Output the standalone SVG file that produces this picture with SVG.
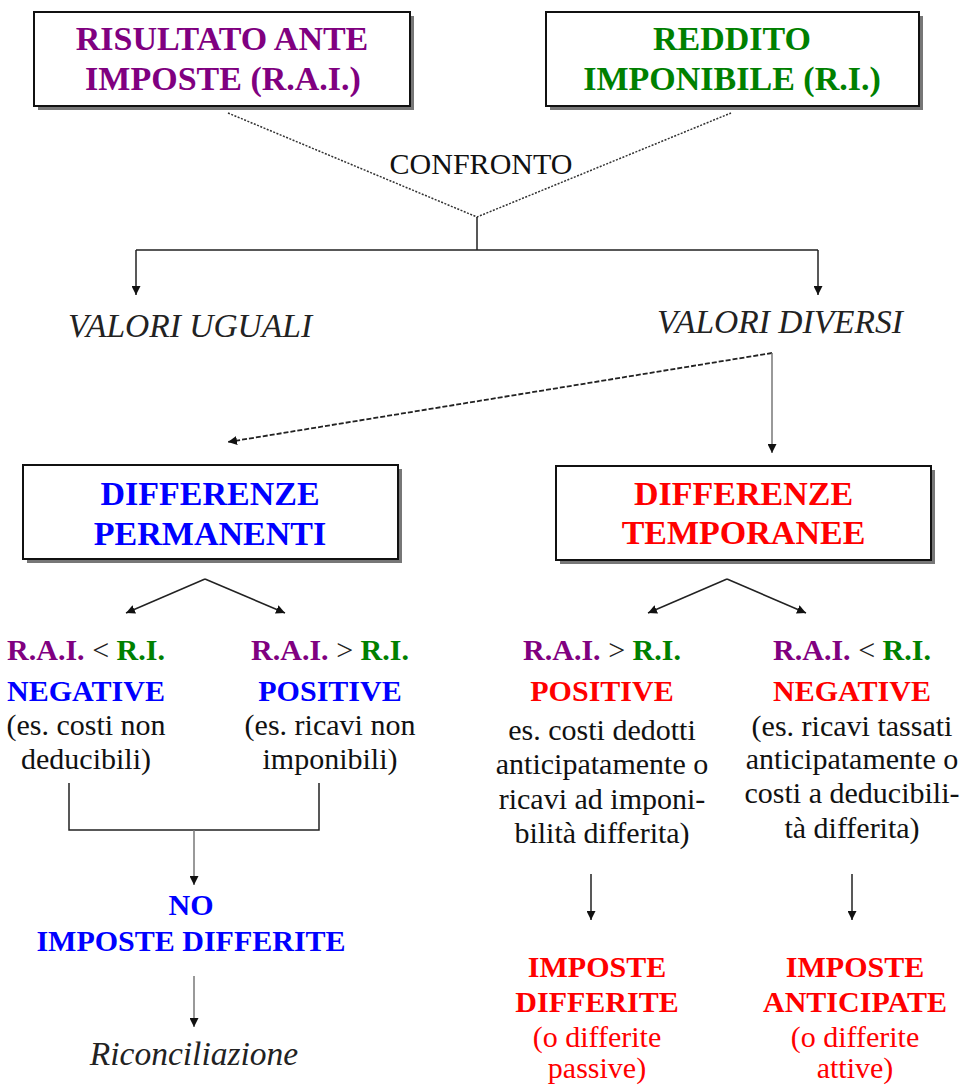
<svg xmlns="http://www.w3.org/2000/svg" width="964" height="1088" viewBox="0 0 964 1088">
<style>
text{font-family:"Liberation Serif","Times New Roman",serif;text-anchor:middle}
.big{font-size:34px;font-weight:bold}
.b{font-size:30px;font-weight:bold}
.r{font-size:30px;fill:#111}
.it{font-style:italic;font-size:33.5px;fill:#222}
.pu{fill:#800080}.gr{fill:#008000}.bl{fill:#0000ff}.rd{fill:#ff0000}
.op{font-weight:normal;fill:#222}
.box{fill:#fff;stroke:#111;stroke-width:2}
.sh{fill:#777}
.ln{fill:none;stroke:#222;stroke-width:1.5}
.gl{fill:none;stroke:#777;stroke-width:1.5}
.dot{fill:none;stroke:#333;stroke-width:1.5;stroke-dasharray:2 1.5}
.dash{fill:none;stroke:#222;stroke-width:1.8;stroke-dasharray:5 2}
</style>
<defs>
<marker id="ah" viewBox="0 0 10 10" refX="10" refY="5" markerWidth="9" markerHeight="9" markerUnits="userSpaceOnUse" orient="auto">
<path d="M0,0 L10,5 L0,10 z" fill="#111"/>
</marker>
</defs>
<rect width="964" height="1088" fill="#fff"/>

<g id="connectors">
<path class="dot" d="M228,113 L477,217 L731,113"/>
<path class="ln" d="M477,217 V250 M136,250 H818"/>
<path class="ln" d="M136,250 V295" marker-end="url(#ah)"/>
<path class="ln" d="M818,250 V295" marker-end="url(#ah)"/>
<path class="dash" d="M772,353 L228,442" marker-end="url(#ah)"/>
<path class="gl" d="M772,353 V453" marker-end="url(#ah)"/>
<path class="ln" d="M205,579 L126,613" marker-end="url(#ah)"/>
<path class="ln" d="M205,579 L285,613" marker-end="url(#ah)"/>
<path class="ln" d="M727,579 L648,613" marker-end="url(#ah)"/>
<path class="ln" d="M727,579 L806,613" marker-end="url(#ah)"/>
<path class="ln" d="M69,783 V830 H319 V783"/>
<path class="gl" d="M194,830 V885" marker-end="url(#ah)"/>
<path class="gl" d="M194,976 V1027" marker-end="url(#ah)"/>
<path class="ln" d="M591,874 V920" marker-end="url(#ah)"/>
<path class="ln" d="M852,874 V920" marker-end="url(#ah)"/>
</g>

<g id="rai">
<rect class="sh" x="38" y="16" width="376" height="94"/>
<rect class="box" x="34" y="12" width="376" height="94"/>
<text class="big pu" x="222" y="50">RISULTATO ANTE</text>
<text class="big pu" x="223" y="90">IMPOSTE (R.A.I.)</text>
</g>

<g id="ri">
<rect class="sh" x="550" y="16" width="373" height="94"/>
<rect class="box" x="546" y="12" width="373" height="94"/>
<text class="big gr" x="732" y="50">REDDITO</text>
<text class="big gr" x="732" y="90">IMPONIBILE (R.I.)</text>
</g>

<g id="confronto">
<text class="r" x="481" y="174">CONFRONTO</text>
</g>

<g id="valori-uguali">
<text class="it" x="190" y="337">VALORI UGUALI</text>
</g>

<g id="valori-diversi">
<text class="it" x="780" y="333">VALORI DIVERSI</text>
</g>

<g id="diff-perm">
<rect class="sh" x="27" y="469" width="375" height="94"/>
<rect class="box" x="23" y="465" width="375" height="94"/>
<text class="big bl" x="210" y="505">DIFFERENZE</text>
<text class="big bl" x="210" y="545">PERMANENTI</text>
</g>

<g id="diff-temp">
<rect class="sh" x="560" y="470" width="375" height="94"/>
<rect class="box" x="556" y="466" width="375" height="94"/>
<text class="big rd" x="743.5" y="505">DIFFERENZE</text>
<text class="big rd" x="743.5" y="544">TEMPORANEE</text>
</g>

<g id="perm-neg">
<text class="b" x="86" y="660"><tspan class="pu">R.A.I.</tspan><tspan class="op"> &lt; </tspan><tspan class="gr">R.I.</tspan></text>
<text class="b bl" x="86" y="701">NEGATIVE</text>
<text class="r" x="86" y="735">(es. costi non</text>
<text class="r" x="86" y="769">deducibili)</text>
</g>

<g id="perm-pos">
<text class="b" x="330" y="660"><tspan class="pu">R.A.I.</tspan><tspan class="op"> &gt; </tspan><tspan class="gr">R.I.</tspan></text>
<text class="b bl" x="330" y="701">POSITIVE</text>
<text class="r" x="330" y="735">(es. ricavi non</text>
<text class="r" x="330" y="769">imponibili)</text>
</g>

<g id="temp-pos">
<text class="b" x="602" y="660"><tspan class="pu">R.A.I.</tspan><tspan class="op"> &gt; </tspan><tspan class="gr">R.I.</tspan></text>
<text class="b rd" x="602" y="701">POSITIVE</text>
<text class="r" x="602" y="740">es. costi dedotti</text>
<text class="r" x="602" y="774">anticipatamente o</text>
<text class="r" x="602" y="809">ricavi ad imponi-</text>
<text class="r" x="602" y="843">bilità differita)</text>
</g>

<g id="temp-neg">
<text class="b" x="852" y="660"><tspan class="pu">R.A.I.</tspan><tspan class="op"> &lt; </tspan><tspan class="gr">R.I.</tspan></text>
<text class="b rd" x="852" y="701">NEGATIVE</text>
<text class="r" x="852" y="736">(es. ricavi tassati</text>
<text class="r" x="852" y="769">anticipatamente o</text>
<text class="r" x="852" y="803">costi a deducibili-</text>
<text class="r" x="852" y="838">tà differita)</text>
</g>

<g id="no-imposte">
<text class="b bl" x="191" y="915">NO</text>
<text class="b bl" x="191" y="951">IMPOSTE DIFFERITE</text>
</g>

<g id="riconciliazione">
<text class="it" x="194" y="1065">Riconciliazione</text>
</g>

<g id="imposte-differite">
<text class="b rd" x="597" y="977">IMPOSTE</text>
<text class="b rd" x="597" y="1012">DIFFERITE</text>
<text class="r rd" x="597" y="1047">(o differite</text>
<text class="r rd" x="597" y="1078">passive)</text>
</g>

<g id="imposte-anticipate">
<text class="b rd" x="855" y="977">IMPOSTE</text>
<text class="b rd" x="855" y="1012">ANTICIPATE</text>
<text class="r rd" x="855" y="1047">(o differite</text>
<text class="r rd" x="855" y="1078">attive)</text>
</g>
</svg>
